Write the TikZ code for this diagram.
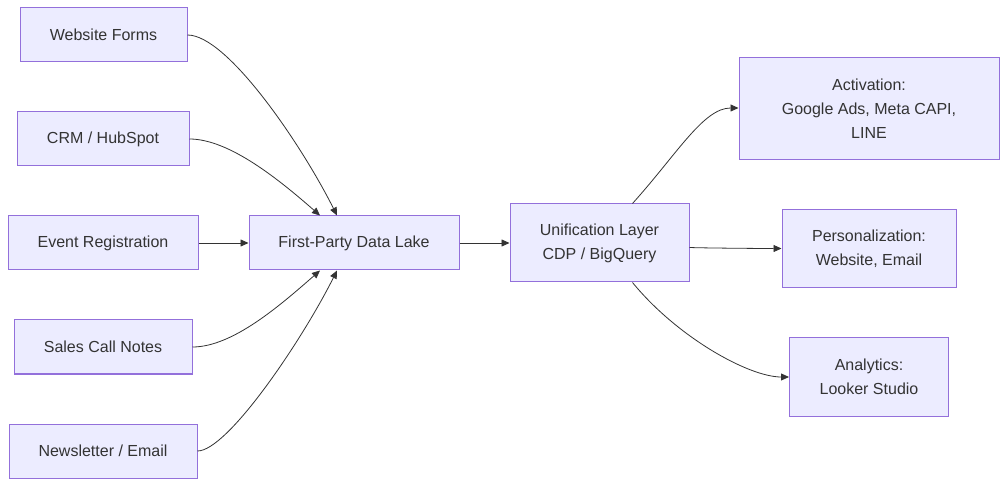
\documentclass[tikz,border=0pt]{standalone}
\usepackage{fontspec}
\setmainfont{Liberation Sans}
\usetikzlibrary{arrows.meta}
\definecolor{nodefill}{HTML}{ECECFF}
\definecolor{nodeline}{HTML}{9370DB}
\definecolor{ink}{HTML}{333333}
\begin{document}
\begin{tikzpicture}[x=1pt,y=-1pt,
  box/.style={draw=nodeline,fill=nodefill,line width=1pt,inner sep=0pt,
    text=ink,font=\fontsize{16}{24}\selectfont,align=center},
  link/.style={draw=ink,line width=0.8pt,-{Triangle[length=8pt,width=7pt]}}]
\useasboundingbox (0,0) rectangle (1007,486);
\node[box,minimum width=167pt,minimum height=54pt] (wf) at (103.5,35) {Website Forms};
\node[box,minimum width=172pt,minimum height=54pt] (crm) at (103,139) {CRM / HubSpot};
\node[box,minimum width=190pt,minimum height=54pt] (ev) at (103,243) {Event Registration};
\node[box,minimum width=178pt,minimum height=54pt] (sc) at (103,347) {Sales Call Notes};
\node[box,minimum width=188pt,minimum height=54pt] (nl) at (103,451) {Newsletter / Email};
\node[box,minimum width=210pt,minimum height=54pt] (lake) at (354,243) {First-Party Data Lake};
\node[box,minimum width=179pt,minimum height=78pt] (unif) at (599.5,243) {Unification Layer\\CDP / BigQuery};
\node[box,minimum width=260pt,minimum height=102pt] (act) at (869,109) {Activation:\\Google Ads, Meta CAPI,\\LINE};
\node[box,minimum width=174pt,minimum height=78pt] (pers) at (869,249) {Personalization:\\Website, Email};
\node[box,minimum width=159pt,minimum height=78pt] (ana) at (869,377) {Analytics:\\Looker Studio};

\draw[link] (wf.east) .. controls +(40,0) and +(-35,-70) .. ([xshift=-17pt]lake.north);
\draw[link] (crm.east) .. controls +(40,0) and +(-40,-35) .. ([xshift=-34pt]lake.north);
\draw[link] (ev.east) -- (lake.west);
\draw[link] (sc.east) .. controls +(40,0) and +(-40,35) .. ([xshift=-34pt]lake.south);
\draw[link] (nl.east) .. controls +(30,0) and +(-35,70) .. ([xshift=-17pt]lake.south);
\draw[link] (lake.east) -- (unif.west);
\draw[link] ([xshift=33pt]unif.north) .. controls +(45,-50) and +(-35,0) .. ([yshift=1pt]act.west);
\draw[link] ([yshift=-4.5pt]unif.east) .. controls +(12,0.5) and +(-25,0) .. ([yshift=0.5pt]pers.west);
\draw[link] ([xshift=33pt]unif.south) .. controls +(45,55) and +(-40,0) .. (ana.west);
\end{tikzpicture}
\end{document}
